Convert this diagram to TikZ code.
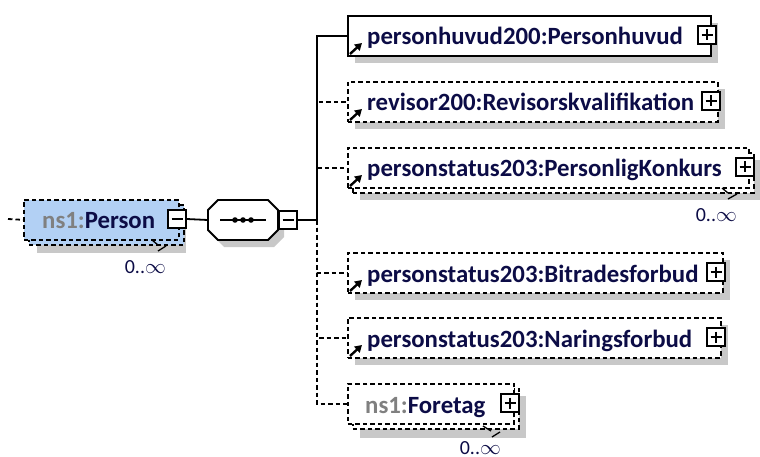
\documentclass[tikz,border=0pt]{standalone}
\usepackage{fontspec}
\setmainfont{Carlito}
\usetikzlibrary{arrows.meta}
\definecolor{navytxt}{RGB}{12,12,70}
\definecolor{nsgray}{RGB}{128,128,128}
\definecolor{selblue}{RGB}{178,208,244}
\definecolor{shadowgray}{RGB}{200,200,200}

\begin{document}
\begin{tikzpicture}[x=1pt,y=-1pt,
  box/.style={draw, line width=1.7pt, fill=white, inner sep=0, anchor=north west, minimum height=40},
  optbox/.style={box, dash pattern=on 4.5pt off 3pt},
  shade/.style={fill=shadowgray, draw=none},
  pmbox/.style={draw, fill=white, line width=1.4pt, minimum size=18, inner sep=0},
  minusbox/.style={pmbox, path picture={\draw[line width=1.4pt] ([xshift=3.5pt]path picture bounding box.west) -- ([xshift=-3.5pt]path picture bounding box.east);}},
  plusbox/.style={pmbox, path picture={\draw[line width=1.4pt] ([xshift=3.5pt]path picture bounding box.west) -- ([xshift=-3.5pt]path picture bounding box.east) ([yshift=-3.5pt]path picture bounding box.north) -- ([yshift=3.5pt]path picture bounding box.south);}},
  elname/.style={font=\bfseries\fontsize{24.8}{25}\selectfont, text=navytxt, anchor=base west, inner sep=0},
  mult/.style={font=\fontsize{20}{20}\selectfont, text=navytxt, anchor=base east, inner sep=0},
  link/.style={line width=1.8pt},
  optlink/.style={link, dash pattern=on 4.5pt off 3pt},
  refarrow/.style={line width=2.4pt, -{Triangle[length=7pt,width=8pt]}},
  tick/.style={line width=1.3pt}
]
\useasboundingbox (0,0) rectangle (760,457);

% Person (selected, 0..unbounded)
\fill[shade] (37,212) rectangle (186,253);
\node[optbox, fill=selblue, minimum width=155] (perback) at (28,204) {};
\node[optbox, fill=selblue, minimum width=155] (per) at (23,199) {};
\node[elname] (pertxt) at (42,229) {\textcolor{nsgray}{ns1:}Person};
\node[minusbox] (perm) at (177,219) {};
\coordinate (in) at (8,219);
\draw[optlink] (in) -- (per.west);
\draw[tick] (152,240) -- (158,245) (158,251) -- (166,246);
\node[mult] (permult) at (166,273) {0..$\infty$};

% sequence
\fill[shade] (224,207) -- (274,207) -- (284,217) -- (284,237) -- (274,247) -- (224,247) -- (214,237) -- (214,217) -- cycle;
\draw[link, fill=white] (218,200) -- (268,200) -- (278,210) -- (278,230) -- (268,240) -- (218,240) -- (208,230) -- (208,210) -- cycle;
\node[minimum width=70, minimum height=40, inner sep=0] (seq) at (243,220) {};
\draw[link] (220,220) -- (266,220);
\foreach \d in {235,243,251}{
  \fill (\d,220) circle (2.8);
}
\node[minusbox] (seqm) at (288,220) {};
\draw[link] (perm.east) -- (seq.west);
\coordinate (bus) at (317,220);
\draw[link] (seqm.east) -- (bus);

% children
\fill[shade] (355,23) rectangle (718,63);
\fill[shade] (355,89) rectangle (725,129);
\fill[shade] (360,160) rectangle (761,200);
\fill[shade] (355,260) rectangle (730,300);
\fill[shade] (355,325) rectangle (728,365);
\fill[shade] (360,396) rectangle (526,438);

\node[box, minimum width=363] (hv) at (347,15) {};
\node[optbox, minimum width=370] (rv) at (347,81) {};
\node[optbox, minimum width=401] (pkback) at (352,152) {};
\node[optbox, minimum width=401] (pk) at (347,147) {};
\node[optbox, minimum width=375] (bf) at (347,252) {};
\node[optbox, minimum width=373] (nf) at (347,317) {};
\node[optbox, minimum width=166] (ftback) at (352,388) {};
\node[optbox, minimum width=166] (ft) at (347,383) {};

\node[elname] (hvtxt) at (367,45) {personhuvud200:Personhuvud};
\node[elname] (rvtxt) at (367,111) {revisor200:Revisorskvalifikation};
\node[elname] (pktxt) at (367,177) {personstatus203:PersonligKonkurs};
\node[elname] (bftxt) at (367,282) {personstatus203:Bitradesforbud};
\node[elname] (nftxt) at (367,347) {personstatus203:Naringsforbud};
\node[elname] (fttxt) at (365,413) {\textcolor{nsgray}{ns1:}Foretag};

\node[plusbox] (hvp) at (707,35) {};
\node[plusbox] (rvp) at (711,101) {};
\node[plusbox] (pkp) at (745,167) {};
\node[plusbox] (bfp) at (716,272) {};
\node[plusbox] (nfp) at (716,337) {};
\node[plusbox] (ftp) at (510,403) {};

\foreach \t in {35,101,167,272,337}{
  \draw[refarrow] (350,\t+19) -- (362,\t+8);
}

\draw[tick] (722,188) -- (728,193) (728,199) -- (737,194);
\node[mult] (pkmult) at (737,222) {0..$\infty$};
\draw[tick] (483,426) -- (491,431) (492,437) -- (500,432);
\node[mult] (ftmult) at (501,454) {0..$\infty$};

\draw[link] (bus) |- (hv.west);
\foreach \c in {rv,pk,bf,nf,ft}{
  \draw[optlink] (bus) |- (\c.west);
}
\end{tikzpicture}
\end{document}
